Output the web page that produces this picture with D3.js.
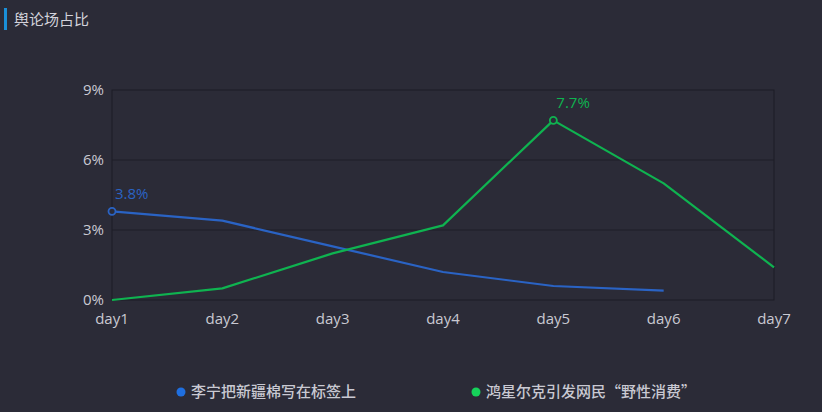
<!DOCTYPE html>
<html>
<head>
<meta charset="utf-8">
<script src="https://cdn.jsdelivr.net/npm/d3@7"></script>
<style>
  body { margin: 0; background: #2b2b37; }
  svg { display: block; }
</style>
</head>
<body>
<svg class="chart"></svg>
<script>
const days = ["day1", "day2", "day3", "day4", "day5", "day6", "day7"];
const seriesNames = ["李宁把新疆棉写在标签上", "鸿星尔克引发网民“野性消费”"];
const liNing = [3.8, 3.4, 2.3, 1.2, 0.6, 0.4];
const hongxing = [0, 0.5, 2.0, 3.2, 7.7, 5.0, 1.4];
const yTicks = [0, 3, 6, 9];
const colors = ["#2a63c4", "#0fb350"];

const width = 822, height = 412;
const svg = d3.select(".chart")
    .attr("width", width)
    .attr("height", height);

svg.append("rect")
    .attr("width", width).attr("height", height)
    .attr("fill", "#2b2b37");

// title with the little blue bar
svg.append("rect")
    .attr("x", 4).attr("y", 8).attr("width", 3).attr("height", 22)
    .attr("fill", "#1a8fd8");
svg.append("text")
    .attr("x", 14).attr("y", 25)
    .attr("fill", "#d2d2da")
    .attr("font-family", "'Noto Sans CJK SC'")
    .attr("font-size", 15)
    .text("舆论场占比");

const x = d3.scalePoint()
    .domain(days)
    .range([112, 774]);

const y = d3.scaleLinear()
    .domain([0, 9])
    .range([300, 90]);

// plot frame + grid
svg.selectAll(".grid")
    .data(yTicks.slice(1, 3))
    .enter()
    .append("line")
    .attr("x1", 112).attr("x2", 774)
    .attr("y1", d => y(d)).attr("y2", d => y(d))
    .attr("stroke", "#1f1f29")
    .attr("stroke-width", 1);

svg.append("rect")
    .attr("x", 112).attr("y", y(9))
    .attr("width", 774 - 112).attr("height", y(0) - y(9))
    .attr("fill", "none")
    .attr("stroke", "#1d1d26")
    .attr("stroke-width", 1);

// y labels
svg.selectAll(".ylab")
    .data(yTicks)
    .enter()
    .append("text")
    .attr("x", 104)
    .attr("y", d => y(d) + 5)
    .attr("text-anchor", "end")
    .attr("fill", "#c9c9d2")
    .attr("font-family", "'Open Sans', sans-serif")
    .attr("font-size", 15)
    .text(d => d + "%");

// x labels
svg.selectAll(".xlab")
    .data(days)
    .enter()
    .append("text")
    .attr("x", d => x(d))
    .attr("y", 324)
    .attr("text-anchor", "middle")
    .attr("fill", "#c9c9d2")
    .attr("font-family", "'Open Sans', sans-serif")
    .attr("font-size", 15)
    .text(d => d);

const line = d3.line()
    .x((d, i) => x(days[i]))
    .y(d => y(d));

[liNing, hongxing].forEach((vals, k) => {
    svg.append("path")
        .datum(vals)
        .attr("d", line)
        .attr("fill", "none")
        .attr("stroke", colors[k])
        .attr("stroke-width", 2.2)
        .attr("stroke-linejoin", "round");

    // mark the max point
    const mi = d3.maxIndex(vals);
    svg.append("circle")
        .attr("cx", x(days[mi]))
        .attr("cy", y(vals[mi]))
        .attr("r", 3.5)
        .attr("fill", "#2b2b37")
        .attr("stroke", colors[k])
        .attr("stroke-width", 1.8);
    svg.append("text")
        .attr("x", x(days[mi]) + 3)
        .attr("y", y(vals[mi]) - 12)
        .attr("fill", colors[k])
        .attr("font-family", "'Open Sans', sans-serif")
        .attr("font-size", 15)
        .text(vals[mi] + "%");
});

// legend
const legendX = [181, 476];
const dotColors = ["#1f6fe0", "#16d25a"];
seriesNames.forEach((name, k) => {
    svg.append("circle")
        .attr("cx", legendX[k]).attr("cy", 392).attr("r", 4.5)
        .attr("fill", dotColors[k]);
    svg.append("text")
        .attr("x", legendX[k] + 10).attr("y", 397)
        .attr("fill", "#c9c9d2")
        .attr("font-family", "'Noto Sans CJK SC'")
        .attr("font-weight", 500)
        .attr("font-size", 15)
        .text(name);
});
</script>
</body>
</html>
